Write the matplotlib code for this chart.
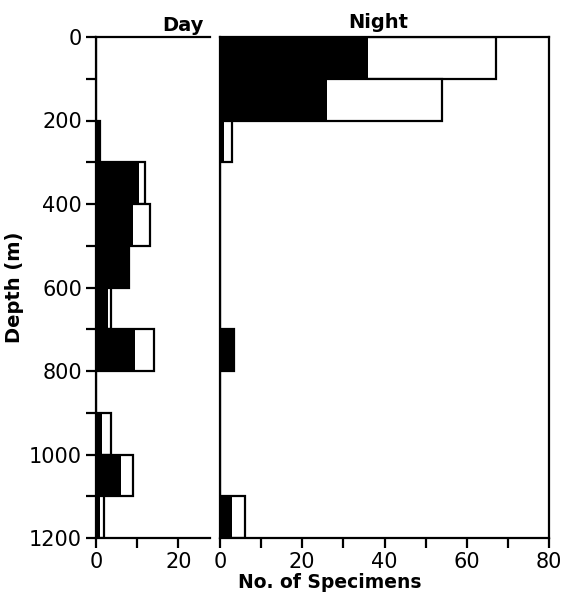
import matplotlib
matplotlib.use('Agg')
import matplotlib.pyplot as plt
import numpy as np

# depth bins (top edge, m), 100 m wide
bin_tops = [0, 100, 200, 300, 400, 500, 600, 700, 800, 900, 1000, 1100]

# day catches: black part and total (black + white)
day_black = [0, 0, 1, 10.5, 9, 8, 3, 9.5, 0, 1.5, 6, 1]
day_total = [0, 0, 1, 12, 13, 8, 3.7, 14, 0, 3.7, 9, 2]

# night catches
night_black = [36, 26, 1, 0, 0, 0, 0, 3.5, 0, 0, 0, 3]
night_total = [67, 54, 3, 0, 0, 0, 0, 3.5, 0, 0, 0, 6]

plt.rcParams['font.family'] = 'DejaVu Sans'
plt.rcParams['font.size'] = 15

fig = plt.figure(figsize=(5.66, 5.93), dpi=100)
ax_day = fig.add_axes([96 / 566, 1 - 538 / 593, 114 / 566, 501 / 593])
ax_night = fig.add_axes([220 / 566, 1 - 538 / 593, 329 / 566, 501 / 593])

lw = 1.6


def draw_bars(ax, black, total):
    ax.barh(bin_tops, total, height=100, align='edge', color='white',
            edgecolor='black', linewidth=lw)
    ax.barh(bin_tops, black, height=100, align='edge', color='black',
            edgecolor='black', linewidth=0)


draw_bars(ax_day, day_black, day_total)
draw_bars(ax_night, night_black, night_total)

for ax in (ax_day, ax_night):
    ax.set_ylim(1200, 0)
    for s in ax.spines.values():
        s.set_linewidth(lw)
    ax.tick_params(axis='both', which='both', direction='out', width=lw,
                   length=7, pad=3)

ax_day.set_xlim(0, 27.7)
ax_day.set_xticks([0, 20])
ax_day.set_xticks([10], minor=True)
ax_day.set_yticks(np.arange(0, 1201, 200))
ax_day.set_yticks(np.arange(100, 1200, 200), minor=True)
ax_day.spines['right'].set_visible(False)
ax_day.set_ylabel('Depth (m)', fontsize=14, fontweight='bold', labelpad=4)

ax_night.set_xlim(0, 80)
ax_night.set_xticks([0, 20, 40, 60, 80])
ax_night.set_xticks([10, 30, 50, 70], minor=True)
ax_night.set_yticks([])

ax_day.text(0.76, 1.003, 'Day', transform=ax_day.transAxes, ha='center',
            va='bottom', fontsize=14, fontweight='bold')
ax_night.text(0.48, 1.01, 'Night', transform=ax_night.transAxes, ha='center',
              va='bottom', fontsize=14, fontweight='bold')
fig.text(330 / 566, 1 - 583 / 593, 'No. of Specimens', ha='center',
         va='center', fontsize=13.5, fontweight='bold')

fig.savefig('out.png', dpi=100)
